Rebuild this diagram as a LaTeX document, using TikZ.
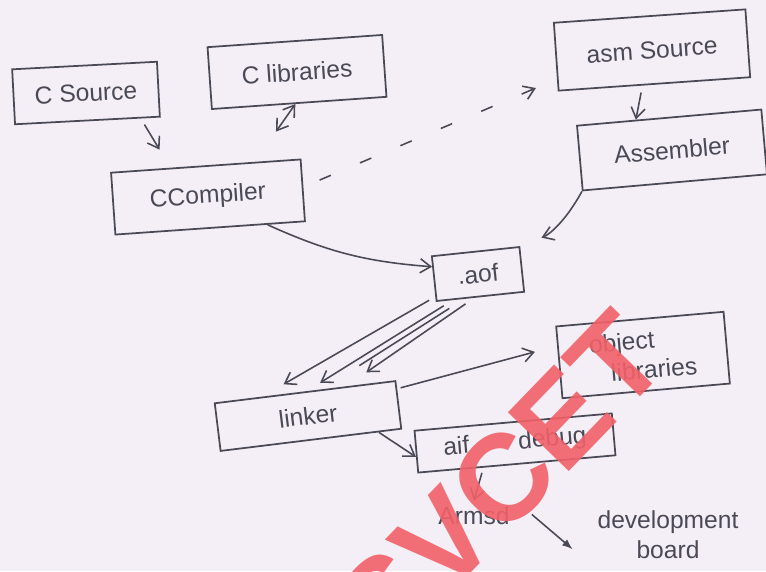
\documentclass[tikz,border=0pt]{standalone}
\usepackage{fontspec}
\setmainfont{Liberation Sans}
\usetikzlibrary{arrows.meta,calc}
\definecolor{InkClr}{rgb}{0.29,0.29,0.34}
\definecolor{PaperClr}{rgb}{0.957,0.937,0.965}
\definecolor{MarkClr}{rgb}{0.95,0.38,0.41}

\begin{document}
\begin{tikzpicture}[x=0.02cm,y=-0.02cm,
  >={Straight Barb[length=6pt,width=8pt]},
  box/.style 2 args={draw=InkClr,line width=1pt,inner sep=2pt,
    minimum width=#1*0.02cm,minimum height=#2*0.02cm},
  ln/.style={draw=InkClr,line width=0.9pt},
  font=\fontsize{14}{17}\selectfont,text=InkClr]
\fill[PaperClr] (0,0) rectangle (766,571);
\useasboundingbox (0,0) rectangle (766,571);

% boxes
\node[box={145}{55},rotate=3] (csrc) at (86,93) {C Source};
\node[box={175}{62},rotate=4] (clib) at (297,72) {C libraries};
\node[box={190}{62},rotate=4] (ccomp) at (208,197) {CCompiler};
\node[box={192}{68},rotate=4] (asmsrc) at (652,50) {asm Source};
\node[box={185}{65},rotate=5] (asmb) at (672,150) {Assembler};
\node[box={88}{45},rotate=6] (aof) at (478,274) {.aof};
\node[box={168}{72},rotate=5,align=left] (objlib) at (643,355) {object\\\hspace{0.8em}libraries};
\node[box={182}{48},rotate=7] (linker) at (308,416) {linker};
\node[box={198}{42},rotate=5] (aifdbg) at (515,443) {aif\quad\quad debug};
\node (armsd) at (474,516) {Armsd};
\node[align=center] (devb) at (668,535) {development\\board};

% connectors
\draw[ln,->,shorten <=4pt,shorten >=12pt] (csrc.-28) -- (ccomp.138);
\draw[ln,<->,shorten >=21pt] (clib.-97) -- (ccomp.33);
\draw[ln,->] (ccomp.-29) to[bend right=10] (aof.165);
\draw[ln,->,dash pattern=on 7pt off 18pt,shorten <=10pt,shorten >=13pt] (ccomp.2) -- (asmsrc.193);
\draw[ln,->,shorten <=4pt] (asmsrc.-109) -- (asmb.135);
\draw[ln,->,shorten >=13pt] (asmb.south west) to[bend left=20] (aof.north east);
\draw[ln,->,shorten <=4pt,shorten >=14pt] (aof.-158) -- (linker.150);
\draw[ln,->,shorten <=6pt,shorten >=9pt] (aof.-140) -- (linker.86);
\draw[ln,shorten <=10pt,shorten >=25pt] (aof.-125) -- (linker.55);
\draw[ln,->,shorten <=6pt,shorten >=14pt] (aof.-105) -- (linker.31);
\draw[ln,->,shorten <=2pt,shorten >=13pt] (linker.10) -- (objlib.169);
\draw[ln,->] (linker.-20) -- (aifdbg.183);
\draw[ln,->,shorten <=3pt] (aifdbg.-147) -- (armsd.north);
\draw[ln,-{Latex[length=6pt]},shorten <=12pt,shorten >=14pt] (armsd.north east) -- (devb.south west);

% watermark
\node[rotate=46,text=MarkClr,opacity=0.9,font=\fontsize{70}{70}\bfseries\selectfont] (mark) at (500,482) {SVCET};
\end{tikzpicture}
\end{document}
